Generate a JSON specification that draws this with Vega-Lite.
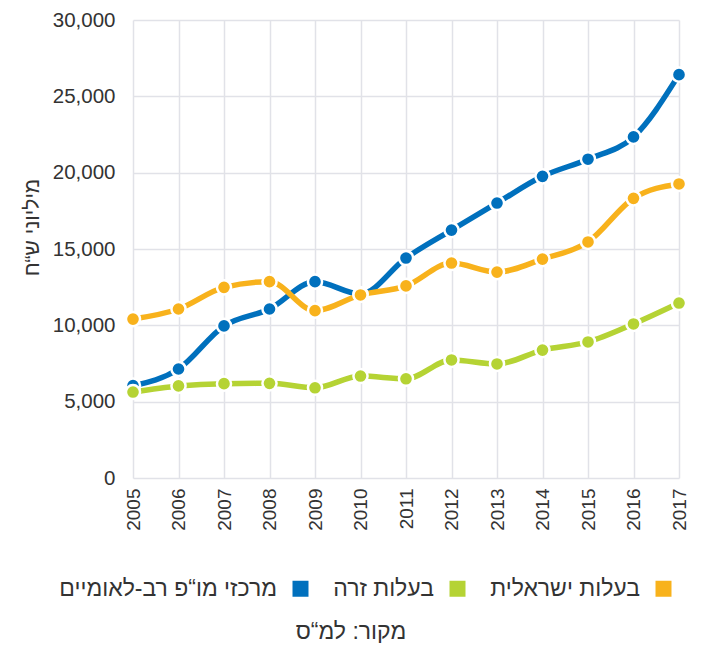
{
  "$schema": "https://vega.github.io/schema/vega-lite/v6.json",
  "width": 546,
  "height": 458,
  "autosize": {"type": "none"},
  "padding": {"left": 133, "top": 20, "right": 26, "bottom": 169},
  "background": "white",
  "config": {
    "font": "Liberation Sans",
    "view": {"stroke": null},
    "axis": {"labelFont": "Liberation Sans", "titleFont": "Liberation Sans"}
  },
  "title": {
    "text": "מקור: למ“ס",
    "orient": "bottom",
    "anchor": "middle",
    "frame": "group",
    "fontSize": 23,
    "fontWeight": "normal",
    "color": "#333333",
    "offset": 20,
    "dx": -55
  },
  "data": {
    "values": [
      {"year": "2005", "series": "מרכזי מו“פ רב-לאומיים", "value": 6050},
      {"year": "2006", "series": "מרכזי מו“פ רב-לאומיים", "value": 7140},
      {"year": "2007", "series": "מרכזי מו“פ רב-לאומיים", "value": 9960},
      {"year": "2008", "series": "מרכזי מו“פ רב-לאומיים", "value": 11070},
      {"year": "2009", "series": "מרכזי מו“פ רב-לאומיים", "value": 12860},
      {"year": "2010", "series": "מרכזי מו“פ רב-לאומיים", "value": 12050},
      {"year": "2011", "series": "מרכזי מו“פ רב-לאומיים", "value": 14410},
      {"year": "2012", "series": "מרכזי מו“פ רב-לאומיים", "value": 16240},
      {"year": "2013", "series": "מרכזי מו“פ רב-לאומיים", "value": 18010},
      {"year": "2014", "series": "מרכזי מו“פ רב-לאומיים", "value": 19760},
      {"year": "2015", "series": "מרכזי מו“פ רב-לאומיים", "value": 20880},
      {"year": "2016", "series": "מרכזי מו“פ רב-לאומיים", "value": 22340},
      {"year": "2017", "series": "מרכזי מו“פ רב-לאומיים", "value": 26420},
      {"year": "2005", "series": "בעלות זרה", "value": 5630},
      {"year": "2006", "series": "בעלות זרה", "value": 6030},
      {"year": "2007", "series": "בעלות זרה", "value": 6180},
      {"year": "2008", "series": "בעלות זרה", "value": 6200},
      {"year": "2009", "series": "בעלות זרה", "value": 5910},
      {"year": "2010", "series": "בעלות זרה", "value": 6680},
      {"year": "2011", "series": "בעלות זרה", "value": 6500},
      {"year": "2012", "series": "בעלות זרה", "value": 7730},
      {"year": "2013", "series": "בעלות זרה", "value": 7470},
      {"year": "2014", "series": "בעלות זרה", "value": 8380},
      {"year": "2015", "series": "בעלות זרה", "value": 8910},
      {"year": "2016", "series": "בעלות זרה", "value": 10090},
      {"year": "2017", "series": "בעלות זרה", "value": 11460},
      {"year": "2005", "series": "בעלות ישראלית", "value": 10410},
      {"year": "2006", "series": "בעלות ישראלית", "value": 11070},
      {"year": "2007", "series": "בעלות ישראלית", "value": 12490},
      {"year": "2008", "series": "בעלות ישראלית", "value": 12860},
      {"year": "2009", "series": "בעלות ישראלית", "value": 10960},
      {"year": "2010", "series": "בעלות ישראלית", "value": 11990},
      {"year": "2011", "series": "בעלות ישראלית", "value": 12580},
      {"year": "2012", "series": "בעלות ישראלית", "value": 14080},
      {"year": "2013", "series": "בעלות ישראלית", "value": 13490},
      {"year": "2014", "series": "בעלות ישראלית", "value": 14340},
      {"year": "2015", "series": "בעלות ישראלית", "value": 15460},
      {"year": "2016", "series": "בעלות ישראלית", "value": 18320},
      {"year": "2017", "series": "בעלות ישראלית", "value": 19260}
    ]
  },
  "encoding": {
    "x": {
      "field": "year",
      "type": "ordinal",
      "scale": {"type": "point", "padding": 0},
      "axis": {
        "title": null,
        "labelAngle": 270,
        "labelFontSize": 19,
        "labelColor": "#333333",
        "labelPadding": 10,
        "domain": false,
        "ticks": false,
        "grid": true,
        "gridColor": "#e1e2e8",
        "gridWidth": 1.5
      }
    },
    "y": {
      "field": "value",
      "type": "quantitative",
      "scale": {"domain": [0, 30000], "nice": false},
      "axis": {
        "title": "מיליוני ש“ח",
        "titleFontSize": 21,
        "titleFontWeight": "normal",
        "titleColor": "#333333",
        "titlePadding": 10,
        "titleY": 207,
        "values": [0, 5000, 10000, 15000, 20000, 25000, 30000],
        "format": ",d",
        "labelFontSize": 20.5,
        "labelColor": "#333333",
        "labelPadding": 18,
        "domain": false,
        "ticks": false,
        "grid": true,
        "gridColor": "#e1e2e8",
        "gridWidth": 1.5
      }
    },
    "color": {
      "field": "series",
      "type": "nominal",
      "scale": {
        "domain": ["מרכזי מו“פ רב-לאומיים", "בעלות זרה", "בעלות ישראלית"],
        "range": ["#0070bd", "#b5d334", "#f8b21c"]
      },
      "legend": {
        "title": null,
        "orient": "none",
        "legendX": 156,
        "legendY": 557,
        "direction": "horizontal",
        "symbolType": "square",
        "symbolSize": 256,
        "symbolStrokeWidth": 0,
        "labelFontSize": 23,
        "labelColor": "#333333",
        "labelAlign": "right",
        "labelOffset": -35,
        "columnPadding": 24,
        "labelLimit": 400
      }
    }
  },
  "layer": [
    {
      "mark": {"type": "line", "interpolate": "monotone", "strokeWidth": 5.5}
    },
    {
      "mark": {"type": "point", "filled": true, "size": 200, "stroke": "white", "strokeWidth": 2.5, "opacity": 1, "strokeOpacity": 1}
    }
  ]
}
